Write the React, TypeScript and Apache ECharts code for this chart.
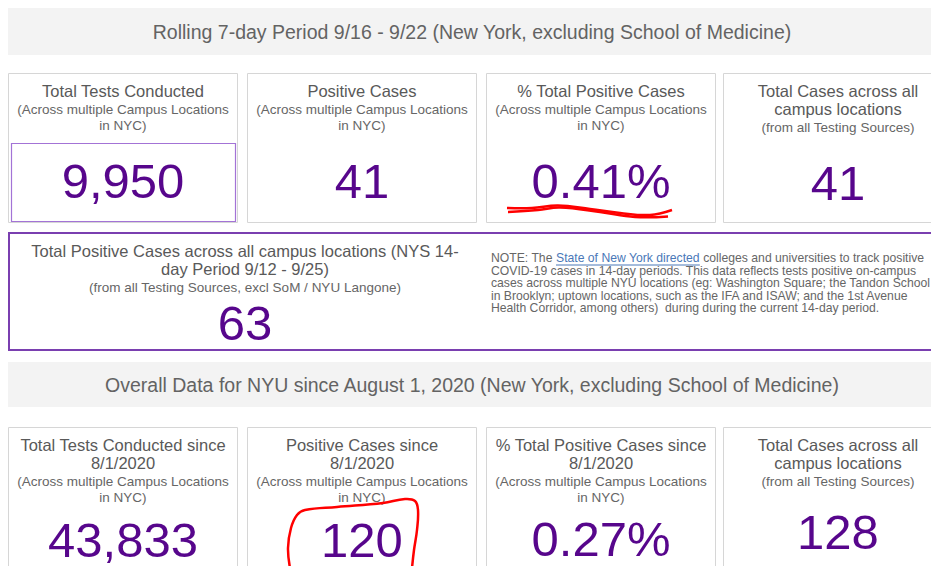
import React, { useEffect, useRef } from "react";
import * as echarts from "echarts";

// ---- data ----
const bannerTitles = [
  "Rolling 7-day Period 9/16 - 9/22 (New York, excluding School of Medicine)",
  "Overall Data for NYU since August 1, 2020 (New York, excluding School of Medicine)",
];

const rollingTitles = [
  ["Total Tests Conducted"],
  ["Positive Cases"],
  ["% Total Positive Cases"],
  ["Total Cases across all", "campus locations"],
];
const rollingSubtitles = [
  ["(Across multiple Campus Locations", "in NYC)"],
  ["(Across multiple Campus Locations", "in NYC)"],
  ["(Across multiple Campus Locations", "in NYC)"],
  ["(from all Testing Sources)"],
];
const rollingValues = ["9,950", "41", "0.41%", "41"];

const overallTitles = [
  ["Total Tests Conducted since", "8/1/2020"],
  ["Positive Cases since", "8/1/2020"],
  ["% Total Positive Cases since", "8/1/2020"],
  ["Total Cases across all", "campus locations"],
];
const overallSubtitles = [
  ["(Across multiple Campus Locations", "in NYC)"],
  ["(Across multiple Campus Locations", "in NYC)"],
  ["(Across multiple Campus Locations", "in NYC)"],
  ["(from all Testing Sources)"],
];
const overallValues = ["43,833", "120", "0.27%", "128"];

const nysTitle = ["Total Positive Cases across all campus locations (NYS 14-", "day Period 9/12 - 9/25)"];
const nysSubtitle = "(from all Testing Sources, excl SoM / NYU Langone)";
const nysValue = "63";

const notePrefix = "NOTE: The ";
const noteLink = "State of New York directed";
const noteLine1Rest = " colleges and universities to track positive";
const noteLines = [
  "COVID-19 cases in 14-day periods. This data reflects tests positive on-campus",
  "cases across multiple NYU locations (eg: Washington Square; the Tandon School",
  "in Brooklyn; uptown locations, such as the IFA and ISAW; and the 1st Avenue",
  "Health Corridor, among others)  during during the current 14-day period.",
];

// ---- style ----
const FONT = "'Liberation Sans', Arial, sans-serif";
const PURPLE = "#57068c";
const TITLE_C = "#595959";
const SUB_C = "#666666";
const CARD_BORDER = "#d6d6d6";
const RED = "#ff0000";

function measure(text: string, font: string): number {
  const c = document.createElement("canvas").getContext("2d");
  if (!c) return text.length * 6;
  c.font = font;
  return c.measureText(text).width;
}

export default function App() {
  const ref = useRef<HTMLDivElement>(null);
  useEffect(() => {
    document.body.style.margin = "0";
    if (!ref.current) return;
    const chart = echarts.init(ref.current, undefined, { renderer: "svg" });
    const g: any[] = [];
    const cardX = [8, 247, 486, 723];
    const cardW = 229;

    const txt = (text: string, x: number, y: number, size: number, fill: string, align = "center") => {
      g.push({
        type: "text",
        style: { text, x, y, fill, font: `${size}px ${FONT}`, align, verticalAlign: "middle" },
      });
    };

    // banners
    const bannerY = [8, 362];
    const bannerH = [47, 45];
    bannerTitles.forEach((t, i) => {
      g.push({ type: "rect", shape: { x: 8, y: bannerY[i], width: 940, height: bannerH[i] }, style: { fill: "#f3f3f3" } });
      txt(t, 472, bannerY[i] + bannerH[i] / 2, 19.5, "#636363");
    });

    const drawRow = (
      top: number,
      bottom: number,
      titles: string[][],
      subs: string[][],
      values: string[],
      valueY: number[]
    ) => {
      titles.forEach((tl, i) => {
        const x0 = cardX[i];
        g.push({
          type: "rect",
          shape: { x: x0 + 0.5, y: top + 0.5, width: cardW, height: bottom - top },
          style: { fill: "#fff", stroke: CARD_BORDER, lineWidth: 1 },
        });
        const cx = x0 + cardW / 2 + 0.5;
        let y = top + 18;
        tl.forEach((line) => {
          txt(line, cx, y, 16.5, TITLE_C);
          y += 18;
        });
        subs[i].forEach((line) => {
          txt(line, cx, y, 13.5, SUB_C);
          y += 16;
        });
        txt(values[i], cx, valueY[i], 49, PURPLE);
      });
    };

    drawRow(73, 222, rollingTitles, rollingSubtitles, rollingValues, [181, 181, 181, 183]);
    // highlight box inside first card
    g.push({
      type: "rect",
      shape: { x: 11.5, y: 143.5, width: 224, height: 78 },
      style: { fill: "none", stroke: "#a373d6", lineWidth: 1.2 },
    });

    // NYS box
    g.push({
      type: "rect",
      shape: { x: 9, y: 233, width: 940, height: 117 },
      style: { fill: "#fff", stroke: "#7a3fb0", lineWidth: 2 },
    });
    txt(nysTitle[0], 245, 251, 16.5, TITLE_C);
    txt(nysTitle[1], 245, 269, 16.5, TITLE_C);
    txt(nysSubtitle, 245, 287, 13.5, SUB_C);
    txt(nysValue, 245, 323, 49, PURPLE);

    // note
    const nSize = 12.2;
    const noteFont = `${nSize}px ${FONT}`;
    const nx = 491;
    const ny0 = 258;
    const lh = 12.6;
    txt(notePrefix, nx, ny0, nSize, SUB_C, "left");
    const w1 = measure(notePrefix, noteFont);
    txt(noteLink, nx + w1, ny0, nSize, "#4a78b8", "left");
    const w2 = measure(noteLink, noteFont);
    g.push({
      type: "line",
      shape: { x1: nx + w1, y1: ny0 + 7, x2: nx + w1 + w2, y2: ny0 + 7 },
      style: { stroke: "#4a78b8", lineWidth: 1 },
    });
    txt(noteLine1Rest, nx + w1 + w2, ny0, nSize, SUB_C, "left");
    noteLines.forEach((l, i) => txt(l, nx, ny0 + lh * (i + 1), nSize, SUB_C, "left"));

    drawRow(427, 600, overallTitles, overallSubtitles, overallValues, [540, 540, 539, 532]);

    // red annotations
    g.push({
      type: "polyline",
      shape: { points: [[507, 208], [532, 208], [558, 205.5], [590, 209], [620, 213], [650, 215], [672, 210]], smooth: 0.4 },
      style: { fill: "none", stroke: RED, lineWidth: 2.5 },
    });
    g.push({
      type: "polyline",
      shape: { points: [[508, 212], [538, 210], [560, 207.5], [600, 212], [635, 217], [668, 216.5]], smooth: 0.4 },
      style: { fill: "none", stroke: RED, lineWidth: 2.5 },
    });
    g.push({
      type: "polyline",
      shape: {
        points: [
          [290, 568], [288, 548], [291, 528], [297, 515], [305, 510], [337, 507],
          [383, 503], [405, 499], [415, 501], [418, 510], [417, 530], [414, 550], [412, 568],
        ],
        smooth: 0.4,
      },
      style: { fill: "none", stroke: RED, lineWidth: 2.5 },
    });

    chart.setOption({ animation: false, backgroundColor: "#ffffff", graphic: { elements: g } });
    return () => chart.dispose();
  }, []);
  return <div ref={ref} style={{ position: "fixed", left: 0, top: 0, width: 931, height: 566 }} />;
}
